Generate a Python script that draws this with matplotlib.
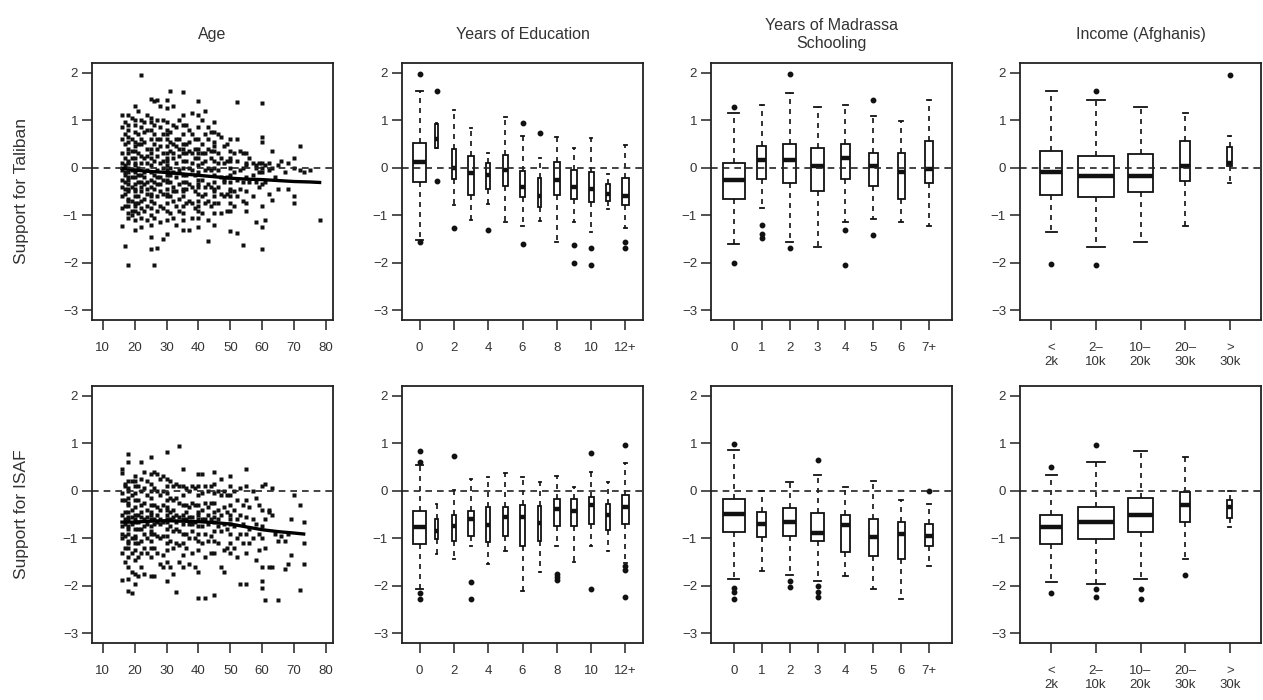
import matplotlib
matplotlib.use("Agg")
import matplotlib.pyplot as plt
import numpy as np

plt.rcParams["font.family"] = ["Liberation Sans", "DejaVu Sans"]

# ---- Age scatter: (age, list of scores) ----
taliban_by_age = [
    (16, [0.85, 0.3, -0.05, -0.4, -0.85, 0.6, -0.6, 0.1, -0.25, 1.1, -1.22]),
    (17, [0.95, 0.5, 0.2, -0.1, -0.3, -0.55, -0.8, 0.7, -0.15, 0.05, -1.65, -0.45]),
    (18, [1.1, 0.9, 0.65, 0.4, 0.3, 0.15, 0.0, -0.1, -0.2, -0.35, -0.5, -0.65, -0.8, -0.95,
          -1.05, 0.8, -0.25, 0.55, -2.04, -0.7, 0.1, -0.45]),
    (19, [1.05, 0.6, 0.2, -0.05, -0.4, -0.7, -1.0, 0.35, -0.2, -0.9]),
    (20, [1.3, 1.0, 0.75, 0.55, 0.35, 0.2, 0.05, -0.1, -0.2, -0.35, -0.5, -0.6, -0.75, -0.9,
          -1.1, -1.3, 0.9, 0.45, -0.05, -0.45, -0.8, 0.1]),
    (21, [1.2, 0.7, 0.3, 0.0, -0.3, -0.6, -0.95, 0.5, -0.15, -0.75]),
    (22, [1.95, 1.0, 0.85, 0.5, 0.25, 0.1, -0.15, -0.3, -0.5, -0.7, -0.85, -1.05, -1.25, 0.6, -0.4]),
    (23, [0.95, 0.55, 0.2, -0.1, -0.35, -0.65, -0.9, 0.75, -0.2]),
    (24, [1.1, 0.8, 0.4, 0.1, -0.05, -0.3, -0.55, -0.8, -1.1, 0.25, -0.45]),
    (25, [1.45, 1.05, 0.8, 0.6, 0.4, 0.2, 0.05, -0.1, -0.25, -0.4, -0.55, -0.7, -0.85, -1.0,
          -1.2, -1.45, 0.95, 0.3, -0.6, -1.7]),
    (26, [1.4, 0.9, 0.5, 0.15, -0.15, -0.45, -0.75, -1.05, -2.04, 0.7, -0.3]),
    (27, [1.42, 1.0, 0.6, 0.25, -0.05, -0.35, -0.6, -0.9, -1.68, 0.4, -0.2]),
    (28, [1.3, 0.85, 0.45, 0.1, -0.2, -0.5, -0.8, -1.15, 0.6, -0.35]),
    (29, [1.0, 0.7, 0.3, 0.0, -0.25, -0.55, -0.85, -1.5, 0.15]),
    (30, [1.42, 1.25, 0.95, 0.8, 0.6, 0.45, 0.3, 0.15, 0.05, -0.05, -0.15, -0.3, -0.45, -0.6,
          -0.75, -0.9, -1.1, -1.4, 0.7, -0.25, -0.55, 0.2]),
    (31, [1.62, 0.75, 0.35, 0.0, -0.3, -0.6, -0.95, 0.55, -0.15]),
    (32, [1.3, 0.9, 0.5, 0.2, -0.1, -0.4, -0.7, -1.05, 0.3, -0.5]),
    (33, [0.85, 0.45, 0.1, -0.2, -0.5, -0.8, -1.2, 0.6]),
    (34, [1.0, 0.6, 0.25, -0.05, -0.35, -0.65, -0.9, 0.4]),
    (35, [1.6, 1.1, 0.9, 0.7, 0.5, 0.3, 0.15, 0.0, -0.15, -0.3, -0.45, -0.6, -0.8, -0.95,
          -1.1, -1.3, 0.4, -0.5]),
    (36, [0.9, 0.5, 0.15, -0.15, -0.45, -0.75, 0.3, -0.3]),
    (37, [0.8, 0.35, 0.0, -0.35, -0.7, -1.3, 0.55]),
    (38, [1.15, 0.7, 0.3, -0.05, -0.4, -0.75, -1.05, 0.1]),
    (39, [0.6, 0.2, -0.15, -0.5, -0.85, 0.4]),
    (40, [1.4, 1.1, 0.85, 0.6, 0.4, 0.2, 0.05, -0.1, -0.25, -0.4, -0.55, -0.7, -0.9, -1.05,
          -1.25, 0.3, -0.35, -0.8]),
    (41, [1.0, 0.5, 0.1, -0.25, -0.6, -0.95, 0.3]),
    (42, [1.2, 0.7, 0.3, -0.05, -0.4, -0.75, 0.15, -0.55]),
    (43, [0.85, 0.4, 0.0, -0.35, -0.7, -1.1, -1.55, 0.6]),
    (44, [0.75, 0.35, -0.05, -0.4, -0.8, 0.2]),
    (45, [0.95, 0.75, 0.55, 0.35, 0.15, 0.0, -0.15, -0.3, -0.45, -0.6, -0.75, -0.95, -1.2, 0.45, -0.5]),
    (46, [0.7, 0.3, -0.05, -0.4, -0.75, 0.1]),
    (47, [0.65, 0.2, -0.2, -0.55, -0.95]),
    (48, [0.45, 0.1, -0.25, -0.6, -0.3]),
    (49, [0.5, 0.15, -0.2, -0.55, -0.9]),
    (50, [0.6, 0.35, 0.15, 0.0, -0.15, -0.3, -0.45, -0.6, -0.75, -0.9, -1.32, 0.2, -0.5]),
    (51, [0.3, -0.1, -0.5, -0.8]),
    (52, [1.38, 0.6, 0.15, -0.25, -0.6, -1.38]),
    (53, [0.35, -0.05, -0.45]),
    (54, [0.3, 0.0, -0.3, -0.7, -1.62]),
    (55, [0.3, 0.05, -0.2, -0.5, -0.75, -0.9, 0.1]),
    (56, [0.2, -0.3]),
    (57, [0.1, -0.15, -0.6]),
    (58, [0.0, -0.3, -1.15, 0.05]),
    (59, [0.1, -0.1, -0.4]),
    (60, [1.35, 0.65, 0.55, 0.1, -0.1, -0.35, -0.8, -1.25, -1.7, 0.0]),
    (61, [0.05, -0.3, -1.1]),
    (62, [0.1, -0.05, -0.55]),
    (63, [0.35, 0.0, -0.68]),
    (64, [-0.2]),
    (65, [0.05, -0.45]),
    (66, [0.15]),
    (67, [-0.1]),
    (68, [0.1, -0.45]),
    (70, [0.2, 0.0, -0.6, -0.75]),
    (72, [0.45, -0.05]),
    (73, [-0.1]),
    (75, [-0.05]),
    (78, [-1.1]),
]

isaf_by_age = [
    (16, [0.45, 0.38, -0.2, -0.5, -0.75, -1.0, -1.3, -1.88, -0.05, -0.9]),
    (17, [0.1, -0.2, -0.45, -0.7, -0.95, -1.2, -1.5, 0.15, -0.6]),
    (18, [0.78, 0.6, 0.2, 0.0, -0.15, -0.3, -0.45, -0.6, -0.75, -0.9, -1.05, -1.2, -1.4, -1.6,
          -1.85, -2.1, -0.55, -0.25, -1.1, 0.05, -0.8]),
    (19, [0.2, -0.1, -0.4, -0.7, -1.0, -1.3, -1.7, -2.15, -0.55]),
    (20, [0.3, 0.1, -0.05, -0.2, -0.35, -0.5, -0.65, -0.8, -0.95, -1.1, -1.25, -1.45, -1.75,
          -1.95, 0.2, -0.6, -1.0]),
    (21, [0.1, -0.2, -0.5, -0.8, -1.1, -1.4, -1.8, -0.65]),
    (22, [0.6, 0.25, 0.0, -0.3, -0.55, -0.8, -1.05, -1.3, -1.6, -0.45]),
    (23, [0.4, 0.05, -0.25, -0.6, -0.9, -1.2, -1.75, -0.75]),
    (24, [0.2, -0.1, -0.4, -0.7, -1.0, -1.3, -0.55]),
    (25, [0.7, 0.35, 0.15, 0.0, -0.15, -0.3, -0.45, -0.6, -0.75, -0.9, -1.05, -1.2, -1.4,
          -1.8, -0.5, -0.85]),
    (26, [0.4, 0.05, -0.3, -0.6, -0.9, -1.2, -1.8, -0.7]),
    (27, [0.35, 0.0, -0.35, -0.65, -0.95, -1.3, -0.5]),
    (28, [0.25, -0.1, -0.4, -0.7, -1.0, -1.55, -0.6]),
    (29, [0.3, 0.0, -0.3, -0.65, -0.95, -1.35, -1.6]),
    (30, [0.82, 0.25, 0.1, -0.05, -0.2, -0.35, -0.5, -0.65, -0.8, -0.95, -1.1, -1.25, -1.5,
          -1.9, -0.6, -0.4]),
    (31, [0.2, -0.15, -0.45, -0.75, -1.05, -1.6, -0.6]),
    (32, [0.1, -0.2, -0.55, -0.85, -1.2, -1.75, -0.4]),
    (33, [0.15, -0.15, -0.5, -0.8, -1.1, -2.12, -0.65]),
    (34, [0.93, 0.1, -0.25, -0.55, -0.85, -1.15, -1.5]),
    (35, [0.45, 0.1, -0.1, -0.3, -0.5, -0.7, -0.9, -1.1, -1.35, -1.6, -0.6]),
    (36, [0.05, -0.3, -0.6, -0.9, -1.2, -0.45]),
    (37, [0.0, -0.35, -0.7, -1.0, -1.55, -0.55]),
    (38, [0.1, -0.25, -0.55, -0.85, -1.3, -0.7]),
    (39, [0.05, -0.3, -0.65, -1.0, -1.6]),
    (40, [0.35, 0.1, -0.1, -0.3, -0.45, -0.6, -0.75, -0.9, -1.05, -1.25, -1.7, -2.25, -0.5]),
    (41, [0.35, -0.05, -0.4, -0.75, -1.1, -0.6]),
    (42, [0.1, -0.25, -0.6, -0.9, -1.4, -2.25]),
    (43, [0.0, -0.35, -0.7, -1.05, -0.5]),
    (44, [0.1, -0.25, -0.6, -0.95, -1.3]),
    (45, [0.4, 0.15, -0.05, -0.25, -0.45, -0.65, -0.85, -1.05, -1.3, -2.2, -0.55]),
    (46, [0.0, -0.4, -0.75, -1.1, -0.6]),
    (47, [0.25, -0.1, -0.5, -0.85, -1.6]),
    (48, [0.0, -0.35, -0.7, -1.25, -1.7]),
    (49, [-0.1, -0.45, -0.8, -1.2]),
    (50, [0.3, 0.1, -0.1, -0.3, -0.5, -0.7, -0.9, -1.1, -1.3, -0.6]),
    (51, [0.0, -0.4, -0.75, -1.2]),
    (52, [-0.2, -0.6, -1.0, -1.4]),
    (53, [0.05, -0.5, -0.9, -1.95]),
    (54, [-0.3, -0.7, -1.1]),
    (55, [0.45, 0.1, -0.2, -0.55, -0.9, -1.3, -1.95]),
    (56, [-0.35, -0.8, -1.1]),
    (57, [0.0, -0.6, -1.0]),
    (58, [-0.15, -0.7, -1.45]),
    (59, [-0.3, -0.9, -1.25]),
    (60, [0.1, -0.4, -0.75, -1.0, -1.6, -1.9, -2.05]),
    (61, [0.15, -0.6, -1.2, -2.3]),
    (62, [-0.4, -0.45, -1.6]),
    (63, [0.05, -0.5, -1.6]),
    (64, [-0.9]),
    (65, [-1.05, -2.3]),
    (66, [-0.95]),
    (67, [-1.05, -1.65]),
    (68, [-1.55, -0.9]),
    (69, [-0.6, -1.35]),
    (70, [-0.1]),
    (72, [-0.3, -2.08]),
    (73, [-0.65, -1.1, -1.55]),
]

# smoothed (loess) curves
taliban_smooth_x = [16, 20, 25, 30, 35, 40, 45, 50, 55, 60, 65, 70, 75, 78]
taliban_smooth_y = [-0.01, -0.05, -0.08, -0.1, -0.13, -0.16, -0.19, -0.22, -0.24, -0.25, -0.27, -0.29, -0.3, -0.31]
isaf_smooth_x = [16, 20, 25, 30, 35, 40, 45, 50, 55, 60, 65, 70, 73]
isaf_smooth_y = [-0.66, -0.66, -0.64, -0.63, -0.64, -0.65, -0.67, -0.7, -0.76, -0.82, -0.86, -0.89, -0.91]

# ---- Box plot groups ----
edu_labels = ["0", "1", "2", "3", "4", "5", "6", "7", "8", "9", "10", "11", "12+"]
edu_n = [600, 20, 40, 90, 60, 90, 60, 40, 110, 90, 90, 55, 155]
mad_labels = ["0", "1", "2", "3", "4", "5", "6", "7+"]
mad_n = [600, 95, 195, 215, 90, 90, 60, 80]
inc_labels = ["<\n2k", "2\u2013\n10k", "10\u2013\n20k", "20\u2013\n30k", ">\n30k"]
inc_n = [170, 450, 210, 38, 10]

# (whisker low, q1, median, q3, whisker high) and outliers
taliban_edu_box = [(-1.51, -0.30, 0.12, 0.52, 1.62), (0.42, 0.42, 0.6, 0.92, 0.94),
                   (-0.78, -0.24, 0.0, 0.4, 1.22), (-1.1, -0.57, -0.12, 0.24, 0.84),
                   (-0.77, -0.45, -0.15, 0.1, 0.31), (-1.15, -0.38, -0.05, 0.26, 1.07),
                   (-1.22, -0.61, -0.4, -0.07, 0.67), (-1.12, -0.82, -0.6, -0.21, 0.21),
                   (-1.57, -0.57, -0.25, 0.12, 0.65), (-1.15, -0.66, -0.4, -0.04, 0.42),
                   (-1.36, -0.73, -0.45, -0.1, 0.63), (-0.87, -0.7, -0.55, -0.35, -0.14),
                   (-1.26, -0.78, -0.6, -0.22, 0.47)]
taliban_edu_out = [[1.97, -1.57], [1.62, -0.27], [-1.27], [], [-1.31], [], [0.94, -1.6], [0.72],
                   [], [-1.63, -2.01], [-1.68, -2.04], [], [-1.57, -1.69]]
isaf_edu_box = [(-2.07, -1.11, -0.77, -0.43, 0.55), (-1.33, -1.02, -0.85, -0.59, -0.28),
                (-1.44, -1.05, -0.74, -0.5, 0.02), (-1.16, -0.95, -0.6, -0.42, 0.25),
                (-1.54, -1.07, -0.73, -0.35, 0.28), (-1.26, -0.95, -0.56, -0.35, 0.37),
                (-2.1, -1.16, -0.56, -0.31, 0.28), (-1.7, -1.05, -0.68, -0.33, 0.18),
                (-1.16, -0.74, -0.38, -0.17, 0.3), (-1.49, -0.74, -0.42, -0.17, 0.07),
                (-1.16, -0.69, -0.31, -0.14, 0.39), (-1.26, -0.82, -0.52, -0.28, 0.18),
                (-1.51, -0.69, -0.35, -0.09, 0.58)]
isaf_edu_out = [[0.84, 0.6, -2.15, -2.28], [], [0.72], [-1.91, -2.28], [], [], [], [],
                [-1.75, -1.82, -1.88], [], [0.79, -2.07], [], [0.95, -1.58, -1.67, -2.23]]

taliban_mad_box = [(-1.6, -0.65, -0.25, 0.1, 1.15), (-0.84, -0.23, 0.17, 0.45, 1.32),
                   (-1.57, -0.33, 0.17, 0.49, 1.57), (-1.67, -0.5, 0.03, 0.42, 1.27),
                   (-1.15, -0.23, 0.2, 0.49, 1.32), (-1.08, -0.38, 0.03, 0.31, 1.08),
                   (-1.15, -0.66, -0.1, 0.31, 0.99), (-1.22, -0.33, -0.03, 0.56, 1.43)]
taliban_mad_out = [[1.27, -2.01], [-1.2, -1.4, -1.47], [1.97, -1.68], [], [-1.31, -2.04],
                   [1.43, -1.42], [], []]
isaf_mad_box = [(-1.86, -0.86, -0.49, -0.17, 0.86), (-1.68, -0.98, -0.7, -0.44, 0.0),
                (-1.77, -0.95, -0.66, -0.36, 0.19), (-1.89, -1.06, -0.88, -0.47, 0.32),
                (-1.8, -1.28, -0.73, -0.5, 0.07), (-2.07, -1.38, -0.98, -0.59, 0.21),
                (-2.28, -1.44, -0.92, -0.66, -0.2), (-1.58, -1.17, -0.95, -0.7, -0.28)]
isaf_mad_out = [[0.98, -2.05, -2.12, -2.28], [], [-1.89, -2.03], [0.65, -2.0, -2.12, -2.24],
                [], [], [], [0.0]]

taliban_inc_box = [(-1.36, -0.58, -0.09, 0.36, 1.62), (-1.67, -0.61, -0.18, 0.24, 1.43),
                   (-1.57, -0.52, -0.18, 0.28, 1.27), (-1.22, -0.28, 0.03, 0.56, 1.15),
                   (-0.33, 0.03, 0.1, 0.44, 0.66)]
taliban_inc_out = [[-2.02], [1.62, -2.04], [], [], [1.95]]
isaf_inc_box = [(-1.91, -1.12, -0.77, -0.5, 0.32), (-1.95, -1.02, -0.66, -0.35, 0.61),
                (-1.86, -0.86, -0.5, -0.16, 0.84), (-1.44, -0.66, -0.3, -0.02, 0.7),
                (-0.77, -0.58, -0.35, -0.2, 0.0)]
isaf_inc_out = [[0.49, -2.14], [0.95, -2.07, -2.24], [-2.07, -2.28], [-1.77], []]

W, H = 1263, 700
fig = plt.figure(figsize=(W / 100, H / 100), dpi=100)

col_left = [92, 402, 711, 1020]
ax_w = 241
row_top = [63, 386]
ax_h = 257

text_color = "#333333"
YLIM = (-3.2, 2.2)


def make_ax(row, col):
    l = col_left[col] / W
    b = 1 - (row_top[row] + ax_h) / H
    ax = fig.add_axes([l, b, ax_w / W, ax_h / H])
    ax.set_ylim(*YLIM)
    ax.set_yticks([-3, -2, -1, 0, 1, 2])
    for s in ax.spines.values():
        s.set_linewidth(1.3)
        s.set_color("#222222")
    ax.tick_params(axis="both", direction="out", length=7, width=1.1, color="#222222",
                   labelsize=9.5, labelcolor=text_color)
    ax.tick_params(axis="x", pad=9)
    ax.tick_params(axis="y", pad=3)
    return ax


def zero_line(ax):
    ax.axhline(0, color="#222222", lw=1.2, ls=(0, (4, 3)), zorder=5)


def draw_scatter(ax, by_age, sx, sy):
    xs = [a for a, vals in by_age for _ in vals]
    ys = [v for a, vals in by_age for v in vals]
    ax.plot(xs, ys, ls="none", marker="s", ms=2.2, mec="none", mfc="#111111", zorder=2)
    ax.plot(sx, sy, color="black", lw=2.4, zorder=4)
    ax.set_xlim(6.6, 82.2)
    ax.set_xticks([10, 20, 30, 40, 50, 60, 70, 80])
    zero_line(ax)


def draw_boxes(ax, boxes, outs, n, labels, tick_step=1):
    k = len(boxes)
    nmax = max(n)
    widths = [0.8 * np.sqrt(c / nmax) for c in n]
    stats = []
    for (lo, q1, med, q3, hi), fl in zip(boxes, outs):
        stats.append(dict(whislo=lo, q1=q1, med=med, q3=q3, whishi=hi, fliers=fl))
    pos = np.arange(1, k + 1)
    ax.bxp(stats, positions=pos, widths=widths, capwidths=[w * 0.5 for w in widths],
           patch_artist=True, showfliers=True, manage_ticks=False,
           boxprops=dict(facecolor="white", edgecolor="#111111", linewidth=1.3),
           whiskerprops=dict(color="#111111", linewidth=1.2, linestyle=(0, (3, 3))),
           capprops=dict(color="#111111", linewidth=1.3),
           medianprops=dict(color="#111111", linewidth=3.2, solid_capstyle="butt"),
           flierprops=dict(marker="o", ms=3.2, mfc="#111111", mec="#111111"))
    ext = 0.04 * k
    ax.set_xlim(0.5 - ext, k + 0.5 + ext)
    ticks = pos[::tick_step]
    ax.set_xticks(ticks)
    ax.set_xticklabels([labels[i - 1] for i in ticks])
    zero_line(ax)


titles = ["Age", "Years of Education", "Years of Madrassa\nSchooling", "Income (Afghanis)"]
ylabels = ["Support for Taliban", "Support for ISAF"]

panels = [
    [(taliban_by_age, taliban_smooth_x, taliban_smooth_y),
     (taliban_edu_box, taliban_edu_out, edu_n, edu_labels, 2),
     (taliban_mad_box, taliban_mad_out, mad_n, mad_labels, 1),
     (taliban_inc_box, taliban_inc_out, inc_n, inc_labels, 1)],
    [(isaf_by_age, isaf_smooth_x, isaf_smooth_y),
     (isaf_edu_box, isaf_edu_out, edu_n, edu_labels, 2),
     (isaf_mad_box, isaf_mad_out, mad_n, mad_labels, 1),
     (isaf_inc_box, isaf_inc_out, inc_n, inc_labels, 1)],
]

for r in range(2):
    for c in range(4):
        ax = make_ax(r, c)
        spec = panels[r][c]
        if c == 0:
            draw_scatter(ax, *spec)
            ax.text(-(col_left[0] - 22) / ax_w, 0.5, ylabels[r], transform=ax.transAxes,
                    rotation=90, ha="center", va="center", fontsize=12.5, color=text_color)
        else:
            draw_boxes(ax, *spec)
        if r == 0:
            ax.text(0.5, 1 + 28 / ax_h, titles[c], transform=ax.transAxes, ha="center",
                    va="center", fontsize=11.5, color=text_color, linespacing=1.25)

fig.savefig("out.png", dpi=100)
